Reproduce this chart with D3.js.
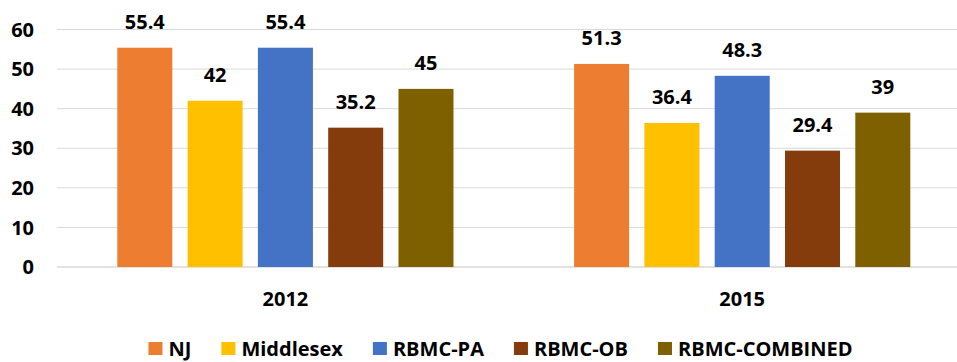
<!DOCTYPE html>
<html>
<head>
<meta charset="utf-8">
<script src="https://cdn.jsdelivr.net/npm/d3@7"></script>
<style>
    body { margin: 0; background: #fff; }
    svg text { font-family: "Open Sans", sans-serif; font-weight: 700; fill: #000; }
</style>
</head>
<body>
<svg class="chart" width="957" height="362"></svg>
<script>
var years = ["2012", "2015"];
var seriesNames = ["NJ", "Middlesex", "RBMC-PA", "RBMC-OB", "RBMC-COMBINED"];
var seriesColors = ["#ED7D31", "#FFC000", "#4472C4", "#843C0C", "#7F6000"];
var values2012 = [55.4, 42, 55.4, 35.2, 45];
var values2015 = [51.3, 36.4, 48.3, 29.4, 39];
var yTicks = [0, 10, 20, 30, 40, 50, 60];

var valuesByYear = [values2012, values2015];

var svgW = 957;
var plotLeft = 57;
var plotRight = 970.6;
var svg = d3.select("svg.chart");

var xScale = d3.scaleBand()
    .domain(years)
    .range([plotLeft, plotRight]);
var xSeries = d3.scaleBand()
    .domain(seriesNames)
    .range([0, xScale.bandwidth()])
    .paddingInner(0.2176)
    .paddingOuter(0.858);
var yScale = d3.scaleLinear()
    .domain([0, 60])
    .range([267, 29.5]);

// gridlines
svg.append("g")
    .classed("grid", true)
    .selectAll("line")
    .data(yTicks)
    .enter()
    .append("line")
    .attr("x1", plotLeft)
    .attr("x2", svgW)
    .attr("y1", function (d) { return yScale(d); })
    .attr("y2", function (d) { return yScale(d); })
    .attr("stroke", "#d9d9d9")
    .attr("stroke-width", function (d) { return d === 0 ? 1.5 : 1; });

// y tick labels
svg.append("g")
    .selectAll("text")
    .data(yTicks)
    .enter()
    .append("text")
    .attr("x", 34)
    .attr("y", function (d) { return yScale(d); })
    .attr("dy", "0.36em")
    .attr("text-anchor", "end")
    .style("font-size", "20px")
    .text(function (d) { return d; });

// bars and value labels
var yearGroups = svg.selectAll("g.year")
    .data(years)
    .enter()
    .append("g")
    .classed("year", true)
    .attr("transform", function (d) { return "translate(" + xScale(d) + ",0)"; });

yearGroups.each(function (year, yearIndex) {
    var group = d3.select(this);
    var vals = valuesByYear[yearIndex];

    group.selectAll("rect")
        .data(vals)
        .enter()
        .append("rect")
        .attr("x", function (d, i) { return xSeries(seriesNames[i]); })
        .attr("y", function (d) { return yScale(d); })
        .attr("width", xSeries.bandwidth())
        .attr("height", function (d) { return yScale(0) - yScale(d); })
        .attr("fill", function (d, i) { return seriesColors[i]; });

    group.selectAll("text.value")
        .data(vals)
        .enter()
        .append("text")
        .classed("value", true)
        .attr("x", function (d, i) { return xSeries(seriesNames[i]) + xSeries.bandwidth() / 2; })
        .attr("y", function (d) { return yScale(d) - 18.5; })
        .attr("text-anchor", "middle")
        .style("font-size", "20px")
        .text(function (d) { return d; });
});

// category labels
svg.append("g")
    .selectAll("text")
    .data(years)
    .enter()
    .append("text")
    .attr("x", function (d) { return xScale(d) + xScale.bandwidth() / 2; })
    .attr("y", 306)
    .attr("text-anchor", "middle")
    .style("font-size", "20px")
    .text(function (d) { return d; });

// legend (kept just inside the bottom edge)
var legend = svg.append("g").classed("legend", true);
var items = legend.selectAll("g")
    .data(seriesNames)
    .enter()
    .append("g");
items.append("rect")
    .attr("width", 14)
    .attr("height", 13)
    .attr("y", 342)
    .attr("fill", function (d, i) { return seriesColors[i]; });
items.append("text")
    .attr("x", 20)
    .attr("y", 355.5)
    .style("font-size", "20px")
    .text(function (d) { return d; });

var widths = [];
items.select("text").each(function () { widths.push(this.getComputedTextLength()); });
var total = d3.sum(widths) + seriesNames.length * 20 + (seriesNames.length - 1) * 30;
var cursor = 500.5 - total / 2;
items.each(function (d, i) {
    d3.select(this).attr("transform", "translate(" + cursor + ",0)");
    cursor += 20 + widths[i] + 30;
});
</script>
</body>
</html>
